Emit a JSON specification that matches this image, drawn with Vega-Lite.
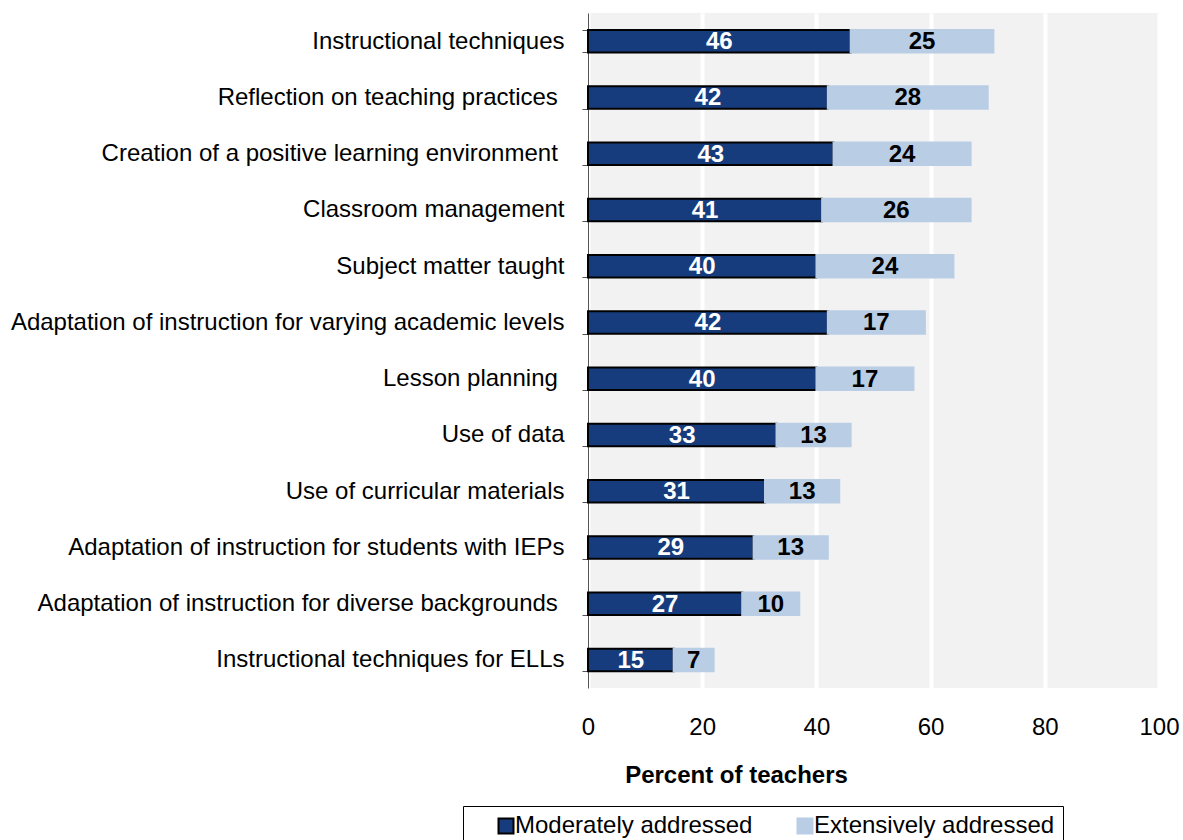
{
  "$schema": "https://vega.github.io/schema/vega-lite/v6.json",
  "autosize": {"type": "none"},
  "padding": {"left": 588, "top": 13, "right": 24, "bottom": 152},
  "width": 571,
  "height": 675,
  "background": "white",
  "config": {
    "view": {"fill": "#f2f2f2", "stroke": null},
    "font": "Liberation Sans"
  },
  "data": {
    "values": [
      {"cat": "Instructional techniques", "series": "Moderately addressed", "value": 46},
      {"cat": "Instructional techniques", "series": "Extensively addressed", "value": 25},
      {"cat": "Reflection on teaching practices \u200b", "series": "Moderately addressed", "value": 42},
      {"cat": "Reflection on teaching practices \u200b", "series": "Extensively addressed", "value": 28},
      {"cat": "Creation of a positive learning environment \u200b", "series": "Moderately addressed", "value": 43},
      {"cat": "Creation of a positive learning environment \u200b", "series": "Extensively addressed", "value": 24},
      {"cat": "Classroom management", "series": "Moderately addressed", "value": 41},
      {"cat": "Classroom management", "series": "Extensively addressed", "value": 26},
      {"cat": "Subject matter taught", "series": "Moderately addressed", "value": 40},
      {"cat": "Subject matter taught", "series": "Extensively addressed", "value": 24},
      {"cat": "Adaptation of instruction for varying academic levels", "series": "Moderately addressed", "value": 42},
      {"cat": "Adaptation of instruction for varying academic levels", "series": "Extensively addressed", "value": 17},
      {"cat": "Lesson planning \u200b", "series": "Moderately addressed", "value": 40},
      {"cat": "Lesson planning \u200b", "series": "Extensively addressed", "value": 17},
      {"cat": "Use of data", "series": "Moderately addressed", "value": 33},
      {"cat": "Use of data", "series": "Extensively addressed", "value": 13},
      {"cat": "Use of curricular materials", "series": "Moderately addressed", "value": 31},
      {"cat": "Use of curricular materials", "series": "Extensively addressed", "value": 13},
      {"cat": "Adaptation of instruction for students with IEPs", "series": "Moderately addressed", "value": 29},
      {"cat": "Adaptation of instruction for students with IEPs", "series": "Extensively addressed", "value": 13},
      {"cat": "Adaptation of instruction for diverse backgrounds \u200b", "series": "Moderately addressed", "value": 27},
      {"cat": "Adaptation of instruction for diverse backgrounds \u200b", "series": "Extensively addressed", "value": 10},
      {"cat": "Instructional techniques for ELLs", "series": "Moderately addressed", "value": 15},
      {"cat": "Instructional techniques for ELLs", "series": "Extensively addressed", "value": 7}
    ]
  },
  "transform": [
    {"stack": "value", "groupby": ["cat"], "sort": [{"field": "series", "order": "descending"}], "as": ["v0", "v1"]},
    {"calculate": "(datum.v0 + datum.v1) / 2", "as": "mid"}
  ],
  "encoding": {
    "y": {
      "field": "cat",
      "type": "nominal",
      "sort": null,
      "title": null,
      "scale": {"paddingInner": 0.6, "paddingOuter": 0.3},
      "axis": {
        "tickBand": "extent",
        "domainColor": "#555555",
        "tickColor": "#555555",
        "tickSize": 6,
        "labelPadding": 18,
        "labelFontSize": 24,
        "labelColor": "black",
        "labelLimit": 700,
        "grid": false
      }
    }
  },
  "layer": [
    {
      "mark": {"type": "bar", "strokeWidth": 2},
      "encoding": {
        "x": {
          "field": "v0",
          "type": "quantitative",
          "scale": {"domain": [0, 100]},
          "title": "Percent of teachers",
          "axis": {
            "values": [0, 20, 40, 60, 80, 100],
            "domain": false,
            "ticks": false,
            "grid": true,
            "gridColor": "white",
            "gridWidth": 4,
            "labelFlush": false,
            "labelFontSize": 24,
            "labelColor": "black",
            "labelPadding": 27,
            "titleFontSize": 24,
            "titleFontWeight": "bold",
            "titleColor": "black",
            "titlePadding": 24,
            "titleX": 148,
            "titleAlign": "center",
            "titleAnchor": "start"
          }
        },
        "x2": {"field": "v1"},
        "color": {
          "field": "series",
          "type": "nominal",
          "title": null,
          "scale": {"domain": ["Moderately addressed", "Extensively addressed"], "range": ["#173c7d", "#b9cde5"]},
          "legend": {
            "orient": "none",
            "direction": "horizontal",
            "legendX": -125,
            "legendY": 793,
            "strokeColor": "black",
            "padding": 8,
            "symbolOffset": 23,
            "symbolType": "square",
            "symbolSize": 225,
            "symbolStrokeWidth": 2,
            "labelFontSize": 24,
            "labelColor": "black",
            "labelOffset": -3,
            "columnPadding": 17,
            "labelLimit": 400
          }
        },
        "stroke": {
          "field": "series",
          "type": "nominal",
          "title": null,
          "scale": {"domain": ["Moderately addressed", "Extensively addressed"], "range": ["#000000", "#b9cde5"]}
        }
      }
    },
    {
      "mark": {"type": "text", "fontWeight": "bold", "fontSize": 24, "align": "center", "baseline": "middle", "dy": 1},
      "encoding": {
        "x": {"field": "mid", "type": "quantitative"},
        "text": {"field": "value", "type": "quantitative"},
        "color": {
          "condition": {"test": "datum.series === 'Moderately addressed'", "value": "white"},
          "value": "black"
        }
      }
    }
  ]
}
